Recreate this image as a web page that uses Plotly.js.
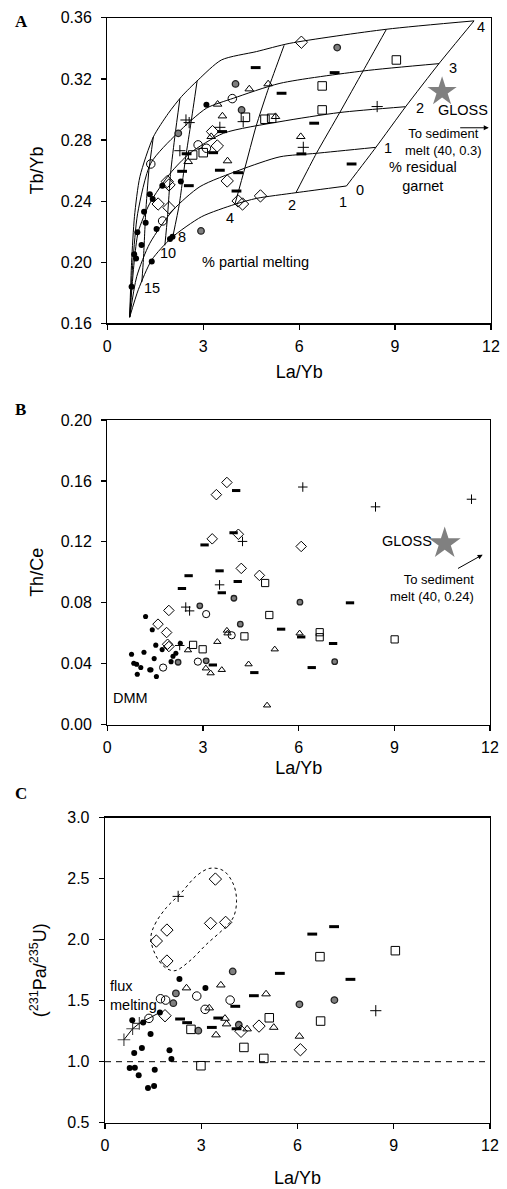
<!DOCTYPE html>
<html><head><meta charset="utf-8">
<script src="https://cdn.plot.ly/plotly-3.0.1.min.js"></script>
<style>html,body{margin:0;padding:0;background:#fff}#chart{width:507px;height:1189px}</style>
</head><body><div id="chart"></div>
<script>
// ---------- Panel A : model grid (% residual garnet curves) ----------
const garnet0X = [0.70, 0.97, 1.39, 2.01, 2.95, 3.99, 4.67, 5.90, 7.48];
const garnet0Y = [0.164, 0.182, 0.2015, 0.216, 0.2298, 0.2379, 0.2418, 0.2455, 0.2499];
const garnet1X = [0.70, 0.92, 1.33, 2.06, 2.90, 4.15, 5.40, 6.54, 8.40];
const garnet1Y = [0.164, 0.1906, 0.2124, 0.2342, 0.2495, 0.2604, 0.269, 0.2713, 0.2752];
const garnet2X = [0.70, 0.84, 0.97, 1.33, 1.96, 2.58, 3.63, 5.40, 7.27, 9.33];
const garnet2Y = [0.164, 0.20, 0.22, 0.2386, 0.258, 0.2713, 0.2844, 0.292, 0.298, 0.3018];
const garnet3X = [0.70, 0.80, 0.95, 1.36, 2.19, 3.10, 3.94, 5.40, 8.00, 10.38];
const garnet3Y = [0.164, 0.20, 0.232, 0.2648, 0.2844, 0.3008, 0.3073, 0.3171, 0.3252, 0.330];
const garnet4X = [0.70, 0.76, 0.85, 1.02, 1.44, 1.91, 2.32, 2.84, 3.57, 4.67, 5.71, 8.73, 11.47];
const garnet4Y = [0.164, 0.20, 0.23, 0.256, 0.282, 0.2975, 0.3084, 0.3193, 0.3324, 0.3379, 0.3433, 0.3525, 0.358];
// % partial melting lines (nodes at garnet 0..4)
const melt15X = [1.08, 1.13, 1.20, 1.30, 1.44];
const melt15Y = [0.187, 0.2018, 0.232, 0.260, 0.282];
const melt10X = [1.80, 1.88, 1.98, 2.12, 2.27];
const melt10Y = [0.211, 0.229, 0.2585, 0.2835, 0.307];
const melt8X = [2.05, 2.25, 2.45, 2.62, 2.81];
const melt8Y = [0.2168, 0.2377, 0.2685, 0.2917, 0.3188];
const melt4X = [3.99, 4.30, 4.65, 5.05, 5.53];
const melt4Y = [0.2379, 0.2614, 0.2888, 0.3144, 0.3420];
const melt2X = [5.90, 6.54, 7.27, 8.00, 8.73];
const melt2Y = [0.2455, 0.2713, 0.298, 0.3252, 0.3525];
const melt1X = [7.48, 8.40, 9.33, 10.38, 11.47];
const melt1Y = [0.2499, 0.2752, 0.3018, 0.3302, 0.358];
// labels
const meltLabels = ['15', '10', '8', '4', '2', '1'];
const meltLabelX = [1.39, 1.91, 2.35, 3.83, 5.79, 7.38];
const meltLabelY = [0.183, 0.2058, 0.2167, 0.2287, 0.2374, 0.2396];
const garnetLabels = ['0', '1', '2', '3', '4'];
const garnetLabelX = [7.90, 8.78, 9.77, 10.81, 11.68];
const garnetLabelY = [0.2473, 0.2746, 0.3008, 0.327, 0.354];

// ---------- Panel A data : Tb/Yb vs La/Yb ----------
const aFilledX = [0.76, 0.84, 0.90, 0.94, 1.07, 1.15, 1.20, 1.33, 1.42, 1.54, 1.39, 1.72, 1.96, 2.04, 2.30, 3.10];
const aFilledY = [0.184, 0.2052, 0.2025, 0.2196, 0.2113, 0.2331, 0.2259, 0.2445, 0.2414, 0.2218, 0.2004, 0.2501, 0.2152, 0.2167, 0.2528, 0.303];
const aGrayX = [2.22, 4.01, 4.20, 2.93, 7.19];
const aGrayY = [0.2844, 0.3167, 0.2997, 0.2205, 0.3405];
const aOpenX = [1.36, 1.73, 2.84, 3.10, 3.91];
const aOpenY = [0.2643, 0.227, 0.2768, 0.2746, 0.3071];
const aDiamX = [1.59, 1.875, 1.93, 1.93, 3.29, 3.44, 3.75, 4.09, 4.23, 4.79, 6.07];
const aDiamY = [0.2381, 0.2528, 0.2506, 0.2357, 0.2855, 0.2761, 0.2532, 0.2401, 0.2381, 0.2434, 0.344];
const aDashX = [4.64, 5.45, 3.59, 3.31, 2.34, 2.55, 2.48, 3.52, 4.09, 4.04, 7.11, 6.47, 6.07, 7.64];
const aDashY = [0.3274, 0.3106, 0.2855, 0.2717, 0.2595, 0.2501, 0.271, 0.2602, 0.2586, 0.2466, 0.3241, 0.291, 0.2709, 0.2643];
const aPlusX = [2.46, 2.56, 2.27, 3.52, 4.25, 8.44, 6.13];
const aPlusY = [0.2931, 0.2914, 0.273, 0.2883, 0.292, 0.3019, 0.2752];
const aSqX = [2.67, 3.00, 4.32, 4.93, 5.14, 6.72, 6.72, 9.04];
const aSqY = [0.2702, 0.2717, 0.2949, 0.2936, 0.2942, 0.3154, 0.2997, 0.3324];
const aTriX = [3.45, 3.60, 3.25, 2.53, 3.76, 4.44, 5.03, 5.26, 6.05];
const aTriY = [0.3034, 0.2957, 0.2822, 0.2658, 0.2663, 0.3134, 0.3167, 0.2953, 0.2822];
const aGlossX = [10.47], aGlossY = [0.3116];
const aArrowFrom = [10.99, 0.288], aArrowTo = [11.93, 0.288];

// ---------- Panel B data : Th/Ce vs La/Yb ----------
const bFilledX = [0.76, 0.83, 0.92, 0.94, 1.05, 1.15, 1.20, 1.33, 1.37, 1.41, 1.47, 1.52, 1.54, 1.72, 2.00, 2.06, 2.15, 2.29];
const bFilledY = [0.0462, 0.0403, 0.0397, 0.0331, 0.0375, 0.0476, 0.0710, 0.036, 0.036, 0.0623, 0.0434, 0.0522, 0.0316, 0.0493, 0.0414, 0.0449, 0.0469, 0.0535];
const bGrayX = [2.22, 2.90, 3.10, 3.97, 4.17, 6.04, 7.13];
const bGrayY = [0.041, 0.078, 0.0419, 0.083, 0.066, 0.0804, 0.0414];
const bOpenX = [1.75, 2.84, 3.10, 3.90];
const bOpenY = [0.0375, 0.0414, 0.0726, 0.0587];
const bDiamX = [1.59, 1.86, 1.93, 1.89, 1.93, 3.29, 3.42, 3.75, 4.11, 4.20, 4.77, 6.08];
const bDiamY = [0.066, 0.0605, 0.075, 0.0528, 0.0513, 0.122, 0.151, 0.159, 0.125, 0.1026, 0.098, 0.117];
const bDashX = [2.34, 2.55, 3.05, 3.31, 3.52, 3.59, 4.04, 3.96, 4.09, 4.61, 5.45, 6.08, 7.61, 7.08, 6.41];
const bDashY = [0.0894, 0.0978, 0.118, 0.0392, 0.101, 0.0866, 0.1537, 0.126, 0.094, 0.0342, 0.0627, 0.0576, 0.080, 0.0533, 0.0375];
const bPlusX = [2.27, 2.46, 2.58, 3.52, 4.24, 6.13, 8.41, 11.42];
const bPlusY = [0.052, 0.0772, 0.0747, 0.0918, 0.1203, 0.156, 0.143, 0.148];
const bSqX = [2.69, 2.99, 4.30, 4.95, 5.08, 6.66, 6.66, 9.01];
const bSqY = [0.0524, 0.0495, 0.058, 0.093, 0.072, 0.0607, 0.0574, 0.056];
const bTriX = [2.53, 3.09, 3.24, 3.45, 3.59, 3.75, 3.77, 4.43, 5.01, 5.25, 6.03];
const bTriY = [0.0489, 0.037, 0.0338, 0.0544, 0.036, 0.0618, 0.060, 0.0397, 0.0127, 0.0495, 0.060];
const bGlossX = [10.58], bGlossY = [0.119];
const bArrowFrom = [10.95, 0.102], bArrowTo = [11.77, 0.1116];

// ---------- Panel C data : (231Pa/235U) vs La/Yb ----------
const cFilledX = [2.32, 3.13, 1.71, 0.85, 1.19, 1.42, 1.15, 0.91, 2.01, 2.07, 0.77, 0.93, 1.05, 1.55, 1.34, 1.53];
const cFilledY = [1.678, 1.604, 1.404, 1.34, 1.322, 1.227, 1.112, 1.071, 1.093, 1.022, 0.948, 0.951, 0.888, 0.934, 0.784, 0.80];
const cGrayX = [3.98, 2.21, 2.13, 2.91, 4.17, 6.06, 7.15];
const cGrayY = [1.74, 1.56, 1.48, 1.254, 1.303, 1.47, 1.505];
const cOpenX = [1.73, 1.89, 2.86, 3.12, 3.90, 1.37];
const cOpenY = [1.516, 1.505, 1.538, 1.429, 1.505, 1.355];
const cDiamX = [3.44, 1.93, 1.60, 1.93, 3.29, 3.76, 1.87, 4.24, 4.80, 6.09];
const cDiamY = [2.497, 2.079, 1.989, 1.825, 2.134, 2.142, 1.377, 1.249, 1.292, 1.098];
const cDashX = [5.45, 4.64, 2.34, 2.56, 3.53, 3.33, 4.06, 4.10, 7.14, 6.46, 7.65];
const cDashY = [1.724, 1.541, 1.35, 1.32, 1.358, 1.281, 1.454, 1.27, 2.107, 2.046, 1.675];
const cPlusX = [2.28, 8.44];
const cPlusY = [2.355, 1.418];
const cSqX = [2.68, 5.12, 4.33, 4.95, 2.99, 6.70, 9.05, 6.72];
const cSqY = [1.265, 1.36, 1.117, 1.027, 0.967, 1.861, 1.91, 1.333];
const cTriX = [2.54, 3.61, 5.02, 3.25, 3.74, 3.79, 3.46, 4.43, 5.26, 6.06];
const cTriY = [1.604, 1.628, 1.555, 1.44, 1.355, 1.309, 1.219, 1.268, 1.281, 1.208];
const fluxX = [0.59, 0.86, 1.07, 1.37, 1.71];
const fluxY = [1.18, 1.27, 1.314, 1.358, 1.404];
const loopX = [1.43, 1.56, 1.92, 2.34, 2.86, 3.27, 3.69, 4.00, 4.10, 4.00, 3.69, 3.17, 2.65, 2.18, 1.87, 1.56, 1.43];
const loopY = [2.019, 2.128, 2.265, 2.374, 2.525, 2.585, 2.566, 2.456, 2.32, 2.183, 2.087, 1.964, 1.828, 1.746, 1.773, 1.883, 2.019];
const eqLineX = [0, 12], eqLineY = [1, 1];

// ---------- build ----------
const FONT = 'Liberation Sans, Arial, sans-serif';
const traces = [];
function line(x, y, xa, ya, extra) {
  traces.push(Object.assign({x, y, xaxis: xa, yaxis: ya, mode: 'lines', hoverinfo: 'skip',
    line: {color: '#000', width: 1}}, extra || {}));
}
function pts(x, y, xa, ya, symbol, size, color, lw, lc) {
  traces.push({x, y, xaxis: xa, yaxis: ya, mode: 'markers', cliponaxis: false,
    marker: {symbol, size, color, line: {width: lw, color: lc || '#000'}}});
}
function addSet(xa, ya, s, d) {
  pts(d.fx, d.fy, xa, ya, 'circle', 6 * s, '#000', 0);
  pts(d.gx, d.gy, xa, ya, 'circle', 6.5 * s, '#7f7f7f', 1.3, '#222');
  pts(d.ox, d.oy, xa, ya, 'circle-open', 8.5 * s, '#000', 1);
  pts(d.dx, d.dy, xa, ya, 'diamond-open', 9.5 * s, '#000', 1);
  pts(d.sx, d.sy, xa, ya, 'square-open', 8.5 * s, '#000', 1);
  pts(d.tx, d.ty, xa, ya, 'triangle-up-open', 7.5 * s, '#000', 1);
  pts(d.px, d.py, xa, ya, 'cross-thin-open', 8 * s, '#000', 1);
  pts(d.hx, d.hy, xa, ya, 'line-ew-open', 7 * s, '#000', 3);
}

// Panel A grid
[[garnet0X, garnet0Y], [garnet1X, garnet1Y], [garnet2X, garnet2Y], [garnet3X, garnet3Y], [garnet4X, garnet4Y]]
  .forEach(g => line(g[0], g[1], 'x', 'y', {line: {color: '#000', width: 1, shape: 'spline', smoothing: 0.7}}));
[[melt15X, melt15Y], [melt10X, melt10Y], [melt8X, melt8Y], [melt4X, melt4Y], [melt2X, melt2Y], [melt1X, melt1Y]]
  .forEach(m => line(m[0], m[1], 'x', 'y', {line: {color: '#000', width: 1, shape: 'spline', smoothing: 0.5}}));
addSet('x', 'y', 1, {fx: aFilledX, fy: aFilledY, gx: aGrayX, gy: aGrayY, ox: aOpenX, oy: aOpenY,
  dx: aDiamX, dy: aDiamY, sx: aSqX, sy: aSqY, tx: aTriX, ty: aTriY, px: aPlusX, py: aPlusY, hx: aDashX, hy: aDashY});
pts(aGlossX, aGlossY, 'x', 'y', 'star', 22, '#808080', 0);

// Panel B
addSet('x2', 'y2', 0.85, {fx: bFilledX, fy: bFilledY, gx: bGrayX, gy: bGrayY, ox: bOpenX, oy: bOpenY,
  dx: bDiamX, dy: bDiamY, sx: bSqX, sy: bSqY, tx: bTriX, ty: bTriY, px: bPlusX, py: bPlusY, hx: bDashX, hy: bDashY});
pts(bGlossX, bGlossY, 'x2', 'y2', 'star', 24, '#808080', 0);

// Panel C
line(eqLineX, eqLineY, 'x3', 'y3', {line: {color: '#000', width: 1, dash: '6px,5px'}});
line(loopX, loopY, 'x3', 'y3', {line: {color: '#000', width: 1, dash: '3px,3px', shape: 'spline', smoothing: 1}});
traces.push({x: fluxX, y: fluxY, xaxis: 'x3', yaxis: 'y3', mode: 'lines+markers', line: {color: '#000', width: 1},
  marker: {symbol: 'cross-thin-open', size: [9, 9, 9, 0, 0], color: '#000', line: {width: 1.2, color: '#000'}}});
addSet('x3', 'y3', 1, {fx: cFilledX, fy: cFilledY, gx: cGrayX, gy: cGrayY, ox: cOpenX, oy: cOpenY,
  dx: cDiamX, dy: cDiamY, sx: cSqX, sy: cSqY, tx: cTriX, ty: cTriY, px: cPlusX, py: cPlusY, hx: cDashX, hy: cDashY});

const H = 1189, W = 507;
function dom(a, b, total) { return [a / total, b / total]; }
function ydom(top, bottom) { return [1 - bottom / H, 1 - top / H]; }
function xAx(xd, anchor, title, standoff) {
  return {domain: xd, range: [0, 12], dtick: 3, tick0: 0, anchor, showgrid: false, zeroline: false,
    showline: true, mirror: true, linecolor: '#000', linewidth: 1.3, ticks: 'outside', ticklen: 5, tickwidth: 1.2,
    tickcolor: '#000', tickfont: {family: FONT, size: 16, color: '#000'}, ticklabelstandoff: 3,
    title: {text: title, font: {family: FONT, size: 18, color: '#000'}, standoff: standoff}};
}
function yAx(yd, range, dtick, fmt, anchor, title, standoff) {
  return {domain: yd, range, dtick, tick0: range[0], tickformat: fmt, anchor, showgrid: false, zeroline: false,
    showline: true, mirror: true, linecolor: '#000', linewidth: 1.3, ticks: 'outside', ticklen: 5, tickwidth: 1.2,
    tickcolor: '#000', tickfont: {family: FONT, size: 16, color: '#000'}, ticklabelstandoff: 6,
    title: {text: title, font: {family: FONT, size: 18, color: '#000'}, standoff: standoff}};
}

const ann = [];
function txt(text, x, y, xr, yr, opts) {
  ann.push(Object.assign({text, x, y, xref: xr, yref: yr, showarrow: false,
    font: {family: FONT, size: 14.5, color: '#000'}}, opts || {}));
}
const F14 = {family: FONT, size: 14.5, color: '#000'};
const F13 = {family: FONT, size: 13, color: '#000'};
meltLabels.forEach((t, i) => txt(t, meltLabelX[i], meltLabelY[i], 'x', 'y', {font: F14}));
garnetLabels.forEach((t, i) => txt(t, garnetLabelX[i], garnetLabelY[i], 'x', 'y', {font: F14}));
txt('GLOSS', 11.13, 0.2996, 'x', 'y', {font: F14});
txt('To sediment<br>melt (40, 0.3)', 10.5, 0.279, 'x', 'y', {font: F13});
txt('% residual<br>garnet', 9.88, 0.256, 'x', 'y', {font: F14});
txt('% partial melting', 4.65, 0.2003, 'x', 'y', {font: F14});
ann.push({x: aArrowTo[0], y: aArrowTo[1], ax: aArrowFrom[0], ay: aArrowFrom[1], xref: 'x', yref: 'y', axref: 'x', ayref: 'y',
  showarrow: true, arrowhead: 2, arrowsize: 1, arrowwidth: 1, arrowcolor: '#000', text: ''});

txt('GLOSS', 9.4, 0.1205, 'x2', 'y2', {font: F14});
txt('To sediment<br>melt (40, 0.24)', 11.55, 0.0895, 'x2', 'y2', {xanchor: 'right', align: 'right', font: F13});
txt('DMM', 0.12, 0.0175, 'x2', 'y2', {xanchor: 'left', font: F14});
ann.push({x: bArrowTo[0], y: bArrowTo[1], ax: bArrowFrom[0], ay: bArrowFrom[1], xref: 'x2', yref: 'y2', axref: 'x2', ayref: 'y2',
  showarrow: true, arrowhead: 2, arrowsize: 1, arrowwidth: 1, arrowcolor: '#000', text: ''});

txt('flux<br>melting', 0.1, 1.54, 'x3', 'y3', {xanchor: 'left', align: 'left', font: F14});

const PL = {family: 'Liberation Serif, Times New Roman, serif', size: 17, color: '#000'};
txt('<b>A</b>', 13 / W, 1 - 10 / H, 'paper', 'paper', {font: PL});
txt('<b>B</b>', 13 / W, 1 - 409 / H, 'paper', 'paper', {font: PL});
txt('<b>C</b>', 13 / W, 1 - 805 / H, 'paper', 'paper', {font: PL});

const layout = {
  width: W, height: H, margin: {l: 0, r: 0, t: 0, b: 0}, showlegend: false,
  paper_bgcolor: '#fff', plot_bgcolor: '#fff', font: {family: FONT, color: '#000'},
  xaxis: xAx(dom(107.3, 491, W), 'y', 'La/Yb', 11),
  yaxis: yAx(ydom(17.8, 323.3), [0.16, 0.36], 0.04, '.2f', 'x', 'Tb/Yb', 12),
  xaxis2: xAx(dom(107.3, 490, W), 'y2', 'La/Yb', 6),
  yaxis2: yAx(ydom(420, 724.7), [0, 0.2], 0.04, '.2f', 'x2', 'Th/Ce', 12),
  xaxis3: xAx(dom(105, 490, W), 'y3', 'La/Yb', 18),
  yaxis3: yAx(ydom(817.7, 1122.7), [0.5, 3.0], 0.5, '.1f', 'x3', '(<sup>231</sup>Pa/<sup>235</sup>U)', 16),
  annotations: ann
};
Plotly.newPlot('chart', traces, layout, {staticPlot: true, displayModeBar: false});
</script></body></html>
